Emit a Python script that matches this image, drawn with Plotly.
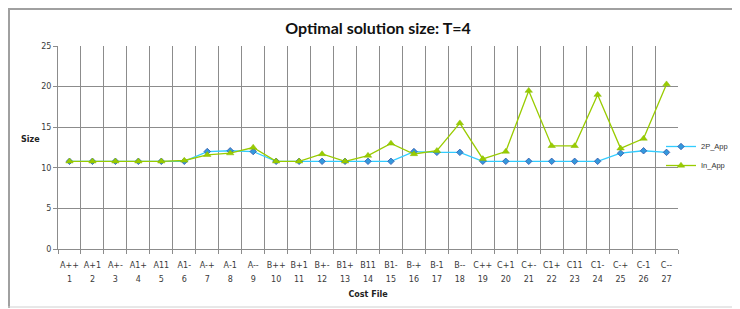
import plotly.graph_objects as go

codes = ["A++", "A+1", "A+-", "A1+", "A11", "A1-", "A-+", "A-1", "A--",
         "B++", "B+1", "B+-", "B1+", "B11", "B1-", "B-+", "B-1", "B--",
         "C++", "C+1", "C+-", "C1+", "C11", "C1-", "C-+", "C-1", "C--"]
nums = [str(n) for n in range(1, 28)]

app_2p = [10.8, 10.8, 10.8, 10.8, 10.8, 10.8, 12.0, 12.1, 12.0,
          10.8, 10.8, 10.8, 10.8, 10.8, 10.8, 12.0, 11.9, 11.9,
          10.8, 10.8, 10.8, 10.8, 10.8, 10.8, 11.8, 12.1, 11.9]
in_app = [10.8, 10.8, 10.8, 10.8, 10.8, 10.9, 11.6, 11.8, 12.5,
          10.8, 10.8, 11.7, 10.8, 11.5, 13.0, 11.7, 12.1, 15.5,
          11.1, 12.0, 19.5, 12.7, 12.7, 19.0, 12.4, 13.6, 20.3]

fig = go.Figure()
fig.add_trace(go.Scatter(
    x=codes, y=app_2p, name="2P_App", mode="lines+markers",
    line=dict(color="#33CCFF", width=1.3),
    marker=dict(symbol="diamond", size=5, color="#3399DD",
                line=dict(color="#3355AA", width=0.8))))
fig.add_trace(go.Scatter(
    x=codes, y=in_app, name="In_App", mode="lines+markers",
    line=dict(color="#99CC00", width=1.3),
    marker=dict(symbol="triangle-up", size=6.5, color="#99CC00",
                line=dict(color="#88BB00", width=0.5))))
# invisible carrier trace for the second (number) row of category labels
fig.add_trace(go.Scatter(
    x=nums, y=app_2p, xaxis="x2", yaxis="y", mode="markers",
    marker=dict(opacity=0), showlegend=False, hoverinfo="skip"))

# page has an 8px body margin: figure origin sits at page (8, 8)
W, H = 770, 301
L, R, T, B = 50, 100, 38, 60
pw, ph = W - L - R, H - T - B


def px(x):  # page x -> paper x
    return (x - 8 - L) / pw


def py(y):  # page y -> paper y
    return (H - B - (y - 8)) / ph


grid = "#8c8c8c"
fig.update_layout(
    width=W, height=H,
    margin=dict(l=L, r=R, t=T, b=B, autoexpand=False),
    paper_bgcolor="white", plot_bgcolor="white",
    font=dict(family="DejaVu Sans", size=8, color="#3a3a3a"),
    title=dict(text="<b>Optimal solution size: T=4</b>", xref="container",
               x=(378 - 8) / W, xanchor="center",
               y=(H - 20) / H, yanchor="middle",
               font=dict(family="Lato", size=16, color="#111111")),
    showlegend=True,
    legend=dict(x=px(661), y=py(156), xanchor="left", yanchor="middle",
                font=dict(family="Liberation Sans", size=7.5, color="#333333"),
                itemwidth=30, tracegroupgap=2, bgcolor="rgba(0,0,0,0)"),
    xaxis=dict(type="category", categoryarray=codes, tickson="boundaries",
               showgrid=True, gridcolor=grid, gridwidth=1, ticks="outside",
               ticklen=4, tickcolor=grid, showline=True, linecolor=grid,
               tickangle=0, tickfont=dict(size=8), range=[-0.5, 26.5],
               ticklabelstandoff=8),
    xaxis2=dict(type="category", categoryarray=nums, overlaying="x",
                side="bottom", anchor="y", range=[-0.5, 26.5], showgrid=False,
                showline=False, ticks="", tickangle=0, tickfont=dict(size=8),
                ticklabelstandoff=24,
                title=dict(text="<b>Cost File</b>", standoff=8,
                           font=dict(size=8, color="#222222"))),
    yaxis=dict(range=[0, 25], dtick=5, showgrid=True, gridcolor=grid,
               gridwidth=1, ticks="outside", ticklen=4, tickcolor=grid,
               showline=True, linecolor=grid, zeroline=False,
               tickfont=dict(size=8)),
    annotations=[dict(text="<b>Size</b>", x=px(30), y=py(139), xref="paper",
                      yref="paper", showarrow=False, xanchor="center",
                      font=dict(size=8, color="#222222"))],
    shapes=[
        dict(type="line", xref="paper", yref="paper", x0=px(8), x1=px(775),
             y0=py(9), y1=py(9), line=dict(color="#a0a0a0", width=2)),
        dict(type="line", xref="paper", yref="paper", x0=px(9), x1=px(9),
             y0=py(9), y1=py(308), line=dict(color="#a0a0a0", width=2)),
        dict(type="line", xref="paper", yref="paper", x0=px(8), x1=px(775),
             y0=py(307), y1=py(307), line=dict(color="#d0d0d0", width=1)),
    ],
)

fig.write_html("out.html")
